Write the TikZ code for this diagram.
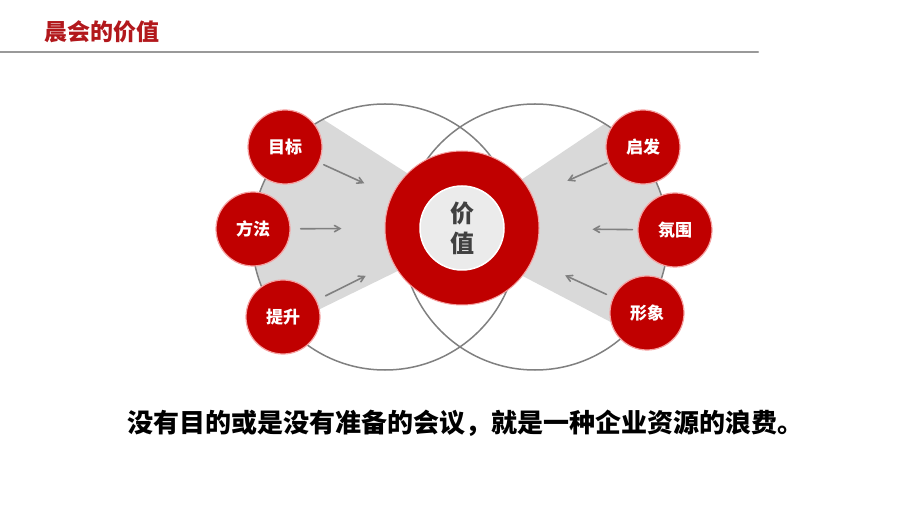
\documentclass[tikz,border=0pt]{standalone}
\usepackage{fontspec}
\setmainfont{Noto Sans CJK SC}
\usetikzlibrary{arrows}
\definecolor{hongse}{RGB}{192,0,0}
\definecolor{biaotise}{RGB}{178,24,28}
\definecolor{xianhui}{RGB}{128,128,128}
\definecolor{qianhui}{RGB}{217,217,217}
\definecolor{neiquan}{RGB}{235,235,235}
\definecolor{zihui}{RGB}{64,64,64}
\definecolor{bianfen}{RGB}{245,160,160}

\begin{document}
\begin{tikzpicture}[line cap=round,line join=round,>=angle 60,x=1pt,y=-1pt,
  xiao/.style={circle,fill=hongse,draw=bianfen,line width=1.2pt,minimum size=74pt,inner sep=0pt,text=white,font=\bfseries\fontsize{17}{17}\selectfont},
  jiantou/.style={->,color=xianhui,line width=1.6pt}]
\useasboundingbox (0,0) rectangle (920,518);
\fill[white] (0,0) rectangle (920,518);
% title
\node[text=biaotise,font=\bfseries\fontsize{23}{23}\selectfont] (biaoti) at (102,32) {晨会的价值};
\coordinate (xianzuo) at (0,52);
\coordinate (xianyou) at (758,52);
\draw[color=gray!80,line width=2pt] (xianzuo) -- (xianyou);
% gray wedges
\begin{scope}
\clip (385,237) circle (133);
\fill[color=qianhui] (232,61) -- (410,175) -- (410,265) -- (226,355) -- cycle;
\end{scope}
\begin{scope}
\clip (535,237) circle (133);
\fill[color=qianhui] (701,59) -- (515,184) -- (515,272) -- (691,364) -- cycle;
\end{scope}
% big circles
\draw[color=xianhui,line width=1.5pt] (385,237) circle (133);
\draw[color=xianhui,line width=1.5pt] (535,237) circle (133);
% center
\node[circle,fill=hongse,draw=bianfen,line width=1pt,minimum size=154pt,inner sep=0pt] (jiazhi) at (462,228) {};
\node[circle,fill=neiquan,draw=white,line width=1.5pt,minimum size=84pt,inner sep=0pt,align=center,text=zihui,font=\bfseries\fontsize{24}{30}\selectfont] (jiazhinei) at (jiazhi) {价\\值};
% small circles
\node[xiao] (mubiao) at (285,147) {目标};
\node[xiao] (fangfa) at (253,229) {方法};
\node[xiao] (tisheng) at (283,317) {提升};
\node[xiao] (qifa) at (643,147) {启发};
\node[xiao] (fenwei) at (675,230) {氛围};
\node[xiao] (xingxiang) at (647,313) {形象};
% arrows
\draw[jiantou,shorten <=5pt,shorten >=30pt] (mubiao) -- (jiazhi);
\draw[jiantou,shorten <=10pt,shorten >=43pt] (fangfa) -- (jiazhi);
\draw[jiantou,shorten <=10pt,shorten >=30pt] (tisheng) -- (jiazhi);
\draw[jiantou,shorten <=2pt,shorten >=38pt] (qifa) -- (jiazhi);
\draw[jiantou,shorten <=5pt,shorten >=53pt] (fenwei) -- (jiazhi);
\draw[jiantou,shorten <=7pt,shorten >=36pt] (xingxiang) -- (jiazhi);
% bottom text
\node[font=\bfseries\fontsize{26}{26}\selectfont] (jieyu) at (465,423) {没有目的或是没有准备的会议，就是一种企业资源的浪费。};
\end{tikzpicture}
\end{document}
